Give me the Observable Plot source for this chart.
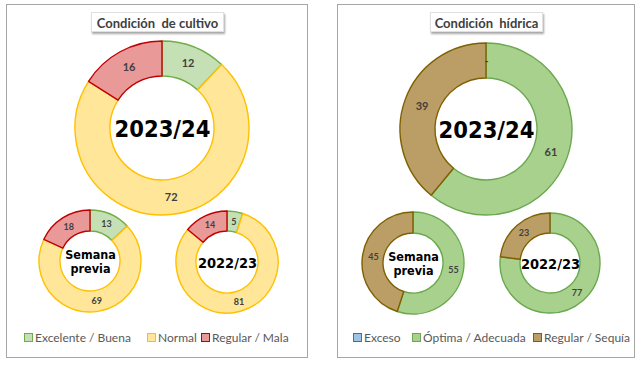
<!DOCTYPE html>
<html><head><meta charset="utf-8">
<script src="https://cdn.jsdelivr.net/npm/d3@7"></script>
<script src="https://cdn.jsdelivr.net/npm/@observablehq/plot@0.6"></script>
<style>
body{margin:0;background:#fff;}
#wrap{position:relative;width:640px;height:365px;overflow:hidden;font-family:Lato,"Open Sans",sans-serif;}
#wrap svg{position:absolute;left:0;top:0;}
.panel{position:absolute;border:1px solid #a6a6a6;box-sizing:border-box;background:#fff;}
.title{position:absolute;height:20px;line-height:20px;text-align:center;font-weight:bold;font-size:13px;color:#404040;background:#fff;border:1px solid #e0e0e0;box-sizing:border-box;box-shadow:1px 2px 2px rgba(0,0,0,0.35);z-index:2;}
.legend{position:absolute;font-size:12px;color:#595959;white-space:nowrap;z-index:2;}
.legend span.item{position:absolute;top:0;}
.legend i{display:inline-block;width:7px;height:7px;border:1px solid;margin-right:2px;vertical-align:-0px;}
</style></head>
<body><div id="wrap"></div>
<script>
// ---- data ----
const cultivoCats = ["Excelente / Buena", "Normal", "Regular / Mala"];
const hidricaCats = ["Exceso", "Óptima / Adecuada", "Regular / Sequía"];
const periods = ["2023/24", "Semana previa", "2022/23"];
const cultivo2324 = [12, 72, 16];
const cultivoPrevia = [13, 69, 18];
const cultivo2223 = [5, 81, 14];
const hidrica2324 = [0, 61, 39];
const hidricaPrevia = [0, 55, 45];
const hidrica2223 = [0, 77, 23];
const titles = ["Condición  de cultivo", "Condición  hídrica"];

// ---- styles ----
const cultivoFill = ["#c5e0b4", "#ffe699", "#ea9999"];
const cultivoStroke = ["#70ad47", "#ffc000", "#c00000"];
const hidricaFill = ["#9dc3e6", "#a9d18e", "#bb9e66"];
const hidricaStroke = ["#2e75b6", "#6aa84f", "#7f6000"];

// ---- layout ----
const panels = [
  {x: 6, y: 4, w: 302, h: 354, tx: 91, tw: 133, legendX: [24, 147, 201], legendY: 330},
  {x: 337, y: 4, w: 298, h: 354, tx: 430, tw: 113, legendX: [353, 412, 533], legendY: 330}
];
const rings = [
  [{cx: 162, cy: 128, r: 87, ir: 52, big: true}, {cx: 90, cy: 261, r: 51, ir: 30}, {cx: 227, cy: 262, r: 51, ir: 31}],
  [{cx: 486, cy: 129, r: 86, ir: 51, big: true}, {cx: 413, cy: 263, r: 51, ir: 30}, {cx: 550, cy: 263, r: 50, ir: 30}]
];

const charts = [
  {cats: cultivoCats, fills: cultivoFill, strokes: cultivoStroke, series: [cultivo2324, cultivoPrevia, cultivo2223]},
  {cats: hidricaCats, fills: hidricaFill, strokes: hidricaStroke, series: [hidrica2324, hidricaPrevia, hidrica2223]}
];

const strokeOf = new Map();
charts.forEach(c => c.cats.forEach((k, i) => strokeOf.set(k, c.strokes[i])));

const slices = [], labels = [], centers = [];
const pie = d3.pie().sort(null).value(d => d.value);
charts.forEach((c, ci) => {
  c.series.forEach((vals, pi) => {
    const L = rings[ci][pi];
    const rows = vals.map((v, k) => ({cat: c.cats[k], value: v, period: periods[pi]}));
    pie(rows).forEach(a => {
      const s = {...a.data, start: a.startAngle, end: a.endAngle, ...L};
      slices.push(s);
      const mid = (a.startAngle + a.endAngle) / 2;
      const rm = (L.r + L.ir) / 2;
      if (a.data.value > 0 || L.big) {
        labels.push({x: L.cx + rm * Math.sin(mid), y: L.cy - rm * Math.cos(mid),
          text: a.data.value === 0 ? "-" : String(a.data.value), big: !!L.big});
      }
    });
    centers.push({x: L.cx, y: L.cy, text: periods[pi].replace(" ", "\n"), size: L.big ? 23.5 : (periods[pi].includes(" ") ? 12.5 : 14.5)});
  });
});

const arcs = Plot.dot(slices, {
  x: "cx", y: "cy", fill: "cat",
  render(index, scales, values) {
    const g = d3.create("svg:g");
    for (const i of index) {
      const d = slices[i];
      if (d.end - d.start <= 0) continue;
      const k = scales.x(d.cx + 1) - scales.x(d.cx);
      const path = d3.arc()({innerRadius: d.ir * k, outerRadius: d.r * k, startAngle: d.start, endAngle: d.end});
      g.append("path")
        .attr("transform", `translate(${values.x[i]},${values.y[i]})`)
        .attr("d", path)
        .attr("fill", values.fill[i])
        .attr("stroke", strokeOf.get(d.cat))
        .attr("stroke-width", 1.4)
        .attr("stroke-linejoin", "round");
    }
    return g.node();
  }
});

const plot = Plot.plot({
  width: 640, height: 365, margin: 0,
  style: {background: "transparent"},
  x: {domain: [0, 640], range: [0, 640], axis: null},
  y: {domain: [0, 365], range: [0, 365], axis: null},
  color: {domain: [...cultivoCats, ...hidricaCats], range: [...cultivoFill, ...hidricaFill]},
  marks: [
    arcs,
    Plot.text(labels, {x: "x", y: "y", text: "text", fontSize: d => d.big ? 11 : 9, fontWeight: "bold", fill: "#404040", fontFamily: "Lato"}),
    Plot.text(centers, {x: "x", y: "y", text: "text", fontSize: "size", fontWeight: "bold", fill: "#000", fontFamily: "DejaVu Sans Condensed", lineHeight: 1.15})
  ]
});

const wrap = document.getElementById("wrap");
panels.forEach((p, ci) => {
  const d = document.createElement("div");
  d.className = "panel";
  Object.assign(d.style, {left: p.x + "px", top: p.y + "px", width: p.w + "px", height: p.h + "px"});
  wrap.appendChild(d);
});
wrap.appendChild(plot);
panels.forEach((p, ci) => {
  const t = document.createElement("div");
  t.className = "title";
  t.textContent = titles[ci];
  t.style.whiteSpace = "pre";
  Object.assign(t.style, {left: p.tx + "px", top: "12px", width: p.tw + "px"});
  wrap.appendChild(t);
  const lg = document.createElement("div");
  lg.className = "legend";
  lg.style.top = p.legendY + "px";
  lg.style.left = "0px";
  charts[ci].cats.forEach((c, k) => {
    const it = document.createElement("span");
    it.className = "item";
    it.style.left = p.legendX[k] + "px";
    it.innerHTML = `<i style="background:${charts[ci].fills[k]};border-color:${charts[ci].strokes[k]}"></i>${c}`;
    lg.appendChild(it);
  });
  wrap.appendChild(lg);
});
</script></body></html>
